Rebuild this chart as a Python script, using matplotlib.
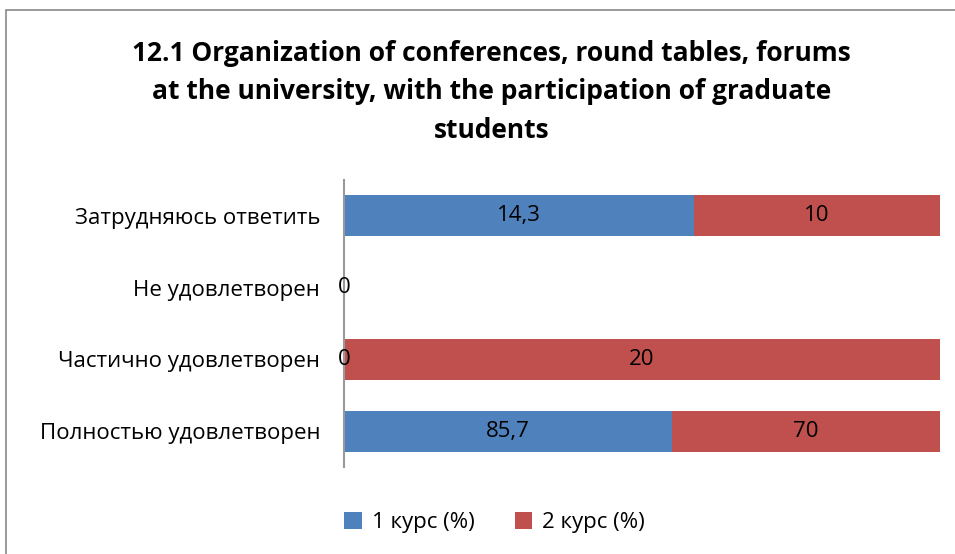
import matplotlib.pyplot as plt
import numpy as np
from matplotlib.patches import Rectangle

categories = ['Полностью удовлетворен', 'Частично удовлетворен', 'Не удовлетворен', 'Затрудняюсь ответить']
course1 = [85.7, 0, 0, 14.3]
course2 = [70, 20, 0, 10]
labels1 = ['85,7', '0', '0', '14,3']
labels2 = ['70', '20', '0', '10']
series_names = ['1 курс (%)', '2 курс (%)']
title = '12.1 Organization of conferences, round tables, forums\nat the university, with the participation of graduate\nstudents'

plt.rcParams['font.family'] = ['Open Sans', 'DejaVu Sans']

fig = plt.figure(figsize=(9.55, 5.54), dpi=100)
fig.patches.append(Rectangle((0.006, -0.1), 1.5, 1.082, transform=fig.transFigure,
                             fill=False, edgecolor='#898989', linewidth=1.2))
ax = fig.add_axes([0.360, 0.157, 0.624, 0.518])

c1 = np.array(course1)
c2 = np.array(course2)
tot = c1 + c2
tot[tot == 0] = 1
p1 = c1 / tot * 100
p2 = c2 / tot * 100
y = np.arange(len(categories))

b1 = ax.barh(y, p1, height=0.57, color='#4F81BD', label=series_names[0])
b2 = ax.barh(y, p2, left=p1, height=0.57, color='#C0504D', label=series_names[1])

for i in range(len(y)):
    ax.text(p1[i] / 2, y[i], labels1[i], ha='center', va='center', fontsize=16)
    if c2[i] > 0:
        ax.text(p1[i] + p2[i] / 2, y[i], labels2[i], ha='center', va='center', fontsize=16)

ax.set_xlim(0, 100)
ax.set_ylim(-0.5, 3.5)
ax.set_yticks(y)
ax.set_yticklabels(categories, fontsize=16)
ax.tick_params(axis='y', length=0, pad=17)
ax.set_xticks([])
for s in ['top', 'right', 'bottom']:
    ax.spines[s].set_visible(False)
ax.spines['left'].set_color('#999999')
ax.spines['left'].set_linewidth(1.5)

fig.text(0.515, 0.928, title, ha='center', va='top', fontsize=19, fontweight='bold',
         linespacing=1.55)

fig.legend(handles=[b1, b2], loc='center', bbox_to_anchor=(0.518, 0.057), ncol=2,
           frameon=False, fontsize=16, handlelength=0.8, handleheight=0.8,
           columnspacing=1.8, handletextpad=0.45)

fig.savefig('out.png', dpi=100)
